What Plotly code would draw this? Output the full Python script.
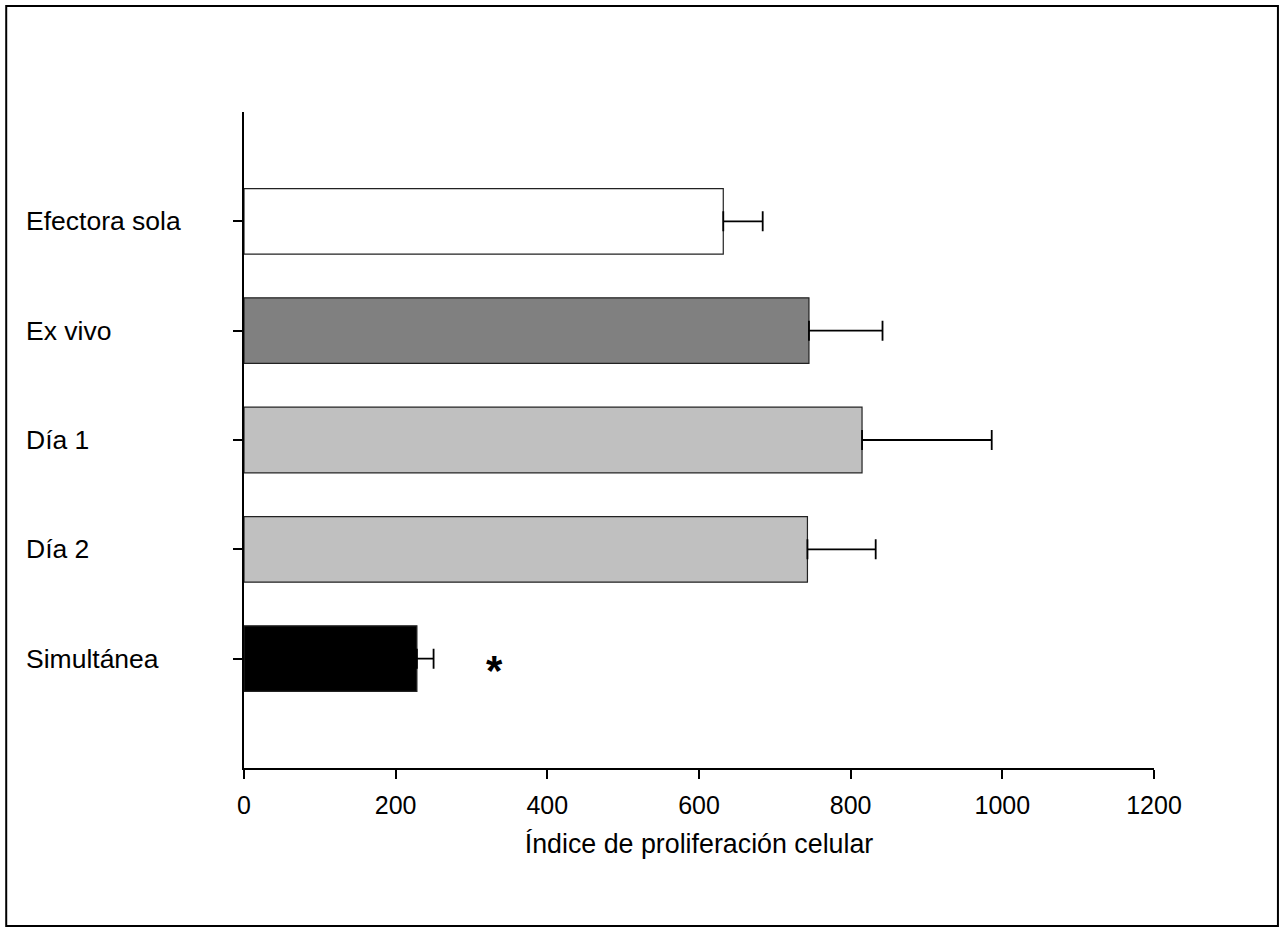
import plotly.graph_objects as go

categories = ["Efectora sola", "Ex vivo", "Día 1", "Día 2", "Simultánea"]
values = [632, 745, 815, 743, 228]
errors = [52, 97, 171, 90, 22]
bar_colors = ["#FFFFFF", "#808080", "#C0C0C0", "#C0C0C0", "#000000"]
x_ticks = [0, 200, 400, 600, 800, 1000, 1200]
x_title = "Índice de proliferación celular"
star_label = "*"
star_x = 330
star_category = "Simultánea"

FONT = "Arial, Liberation Sans, sans-serif"

fig = go.Figure()
fig.add_trace(go.Bar(
    x=values, y=categories, orientation="h", width=0.6,
    marker=dict(color=bar_colors, line=dict(color="#222222", width=1.2)),
    error_x=dict(type="data", array=errors, symmetric=False,
                 color="#000000", thickness=1.8, width=10),
    showlegend=False, hoverinfo="skip",
))

annotations = []
for c in categories:
    annotations.append(dict(
        x=-0.2420, xref="paper", y=c, yref="y", text=c, showarrow=False,
        xanchor="left", yanchor="middle", font=dict(family=FONT, size=26.5, color="#000000"),
    ))
annotations.append(dict(
    x=star_x, xref="x", y=star_category, yref="y", text="<b>" + star_label + "</b>",
    showarrow=False, xanchor="center", yanchor="middle", yshift=-12,
    font=dict(family=FONT, size=42, color="#000000"),
))

fig.update_layout(
    width=1283, height=932,
    margin=dict(l=244, r=128.5, t=112, b=164),
    paper_bgcolor="#FFFFFF", plot_bgcolor="#FFFFFF",
    font=dict(family=FONT, color="#000000"),
    xaxis=dict(
        range=[0, 1200], tickmode="array", tickvals=x_ticks,
        ticktext=[str(t) for t in x_ticks],
        showline=True, linecolor="#000000", linewidth=1.5,
        ticks="outside", ticklen=9, tickwidth=1.5, tickcolor="#000000",
        showgrid=False, zeroline=False, ticklabelstandoff=5,
        tickfont=dict(family=FONT, size=25, color="#000000"),
        title=dict(text=x_title, font=dict(family=FONT, size=26.8, color="#000000"), standoff=16),
    ),
    yaxis=dict(
        type="category", categoryorder="array", categoryarray=categories[::-1],
        range=[-1, 5], showline=True, linecolor="#000000", linewidth=1.5,
        ticks="outside", ticklen=9, tickwidth=1.5, tickcolor="#000000",
        showgrid=False, zeroline=False, showticklabels=False,
    ),
    annotations=annotations,
    shapes=[dict(type="rect", xref="paper", yref="paper",
                 x0=-0.2613, x1=1.1362, y0=-0.2409, y1=1.1616,
                 line=dict(color="#000000", width=2), fillcolor="rgba(0,0,0,0)", layer="above")],
)

fig.write_html("out.html", config={"displayModeBar": False},
               post_script="document.body.style.margin='0';document.body.style.overflow='hidden';")
